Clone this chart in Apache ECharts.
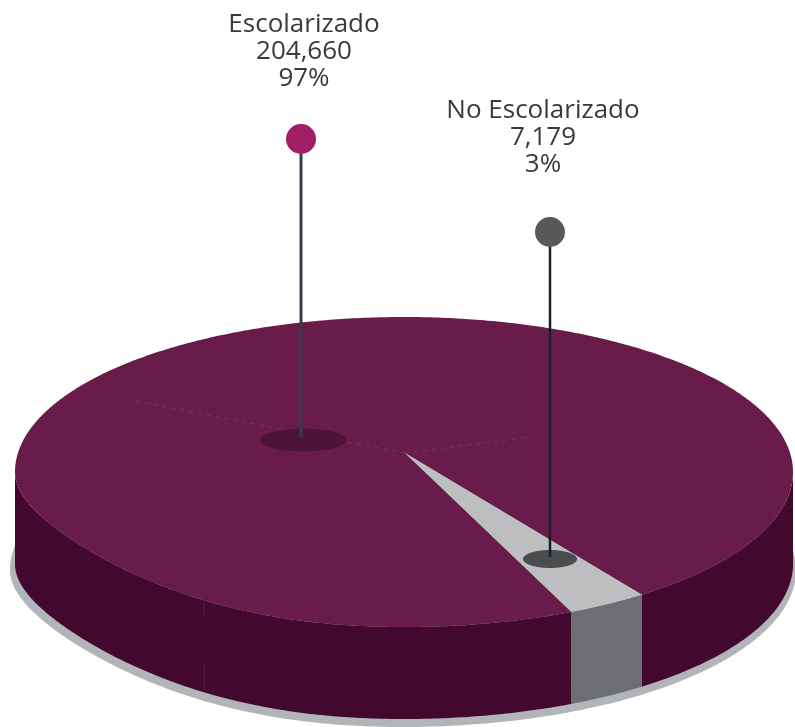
<!DOCTYPE html>
<html>
<head>
<meta charset="utf-8">
<style>html,body{margin:0;padding:0;background:#fff}#c{width:795px;height:727px}</style>
<script src="https://cdn.jsdelivr.net/npm/echarts@6/dist/echarts.min.js"></script>
</head>
<body>
<div id="c"></div>
<script>
var categories = ['Escolarizado', 'No Escolarizado'];
var values = [204660, 7179];
var percents = ['97%', '3%'];
var valueLabels = ['204,660', '7,179'];

var L = {
  cx: 404, cy: 472, rx: 389, ry: 155, depth: 92, squash: 40,
  apex: [405, 453],
  startDeg: 52.3,
  shadow: { cx: 403, cy: 570, rx: 393, ry: 157 },
  seamDeg: 121,
  pins: [
    { x: 301, dotY: 139, baseX: 303, baseY: 440, brx: 43, bry: 11.5, r: 15, w: 3, dot: '#a11d66', line: '#3b3a48', base: '#4d1437', labelX: 304, labelY: 25 },
    { x: 550, dotY: 232, baseX: 550, baseY: 559, brx: 27, bry: 9, r: 15, w: 2.5, dot: '#58595b', line: '#14202a', base: '#4b4c4e', labelX: 543, labelY: 111 }
  ]
};
var C = { top: '#691b4a', side: '#43082d', wedgeTop: '#bcbec0', wedgeSide: '#6d6e71', shadow: '#b1b5b9', seam: '#55203f', faint: 'rgba(140,70,110,0.55)' };
var total = values.reduce(function (a, b) { return a + b; }, 0);

// The drawn disc is a little flatter on its lower left than a true ellipse.
function squash(t) {
  var c = Math.cos(t), s = Math.sin(t);
  return (c < 0 && s > 0) ? -L.squash * Math.pow(-c, 3) * s : 0;
}
function pt(t, dy) {
  return [L.cx + L.rx * Math.cos(t), L.cy + L.ry * Math.sin(t) + squash(t) + (dy || 0)];
}
function arc(a, b, dy) {
  var n = Math.max(2, Math.ceil(Math.abs(b - a) / 0.01)), out = [];
  for (var i = 0; i <= n; i++) out.push(pt(a + (b - a) * i / n, dy));
  return out;
}
function band(a, b) {
  return arc(a, b, 0).concat(arc(a, b, L.depth).reverse());
}
function ell(cx, cy, rx, ry, skew) {
  var out = [];
  for (var i = 0; i < 360; i++) {
    var t = i * Math.PI / 180;
    out.push([cx + rx * Math.cos(t), cy + ry * Math.sin(t) + (skew ? squash(t) : 0)]);
  }
  return out;
}
function poly(points, fill) {
  return { type: 'polygon', shape: { points: points }, style: { fill: fill } };
}
function seg(p, q, stroke, w, dash) {
  return { type: 'line', shape: { x1: p[0], y1: p[1], x2: q[0], y2: q[1] }, style: { stroke: stroke, lineWidth: w, lineDash: dash || null } };
}

function renderItem(params, api) {
  var i = params.dataIndex;
  var t0 = L.startDeg * Math.PI / 180;
  var sweep = 2 * Math.PI * api.value(0) / total;
  var kids = [];
  if (i === 0) {
    var wedge = 2 * Math.PI * values[1] / total;
    var a = t0 + wedge, b = a + sweep;
    var s = L.shadow;
    kids.push(poly(ell(s.cx, s.cy, s.rx, s.ry, true), C.shadow));
    kids.push(poly(band(a, Math.PI), C.side));
    kids.push(poly(band(0, t0), C.side));
    kids.push(poly([L.apex].concat(arc(a, b, 0)), C.top));
    var sm = L.seamDeg * Math.PI / 180, sp = pt(sm, 0);
    kids.push(seg(L.apex, sp, C.seam, 1));
    kids.push(seg([sp[0], sp[1] + 3], [sp[0], sp[1] + 14], C.seam, 1));
    kids.push(seg([sp[0] + 1, sp[1] + 64], [sp[0] + 1, sp[1] + 90], C.seam, 1));
    kids.push(seg(L.apex, [130, 400], C.faint, 1, [4, 5]));
    kids.push(seg(L.apex, [530, 437], C.faint, 1, [4, 5]));
  } else {
    var w0 = t0, w1 = t0 + sweep;
    kids.push(poly(band(w0, w1), C.wedgeSide));
    kids.push(poly([L.apex].concat(arc(w0, w1, 0)), C.wedgeTop));
  }
  var p = L.pins[i];
  kids.push(poly(ell(p.baseX, p.baseY, p.brx, p.bry), p.base));
  kids.push(seg([p.x, p.dotY], [p.x, p.baseY - 2], p.line, p.w));
  kids.push({ type: 'circle', shape: { cx: p.x, cy: p.dotY, r: p.r }, style: { fill: p.dot } });
  kids.push({
    type: 'text',
    style: {
      x: p.labelX, y: p.labelY - 14,
      text: categories[i] + '\n' + valueLabels[i] + '\n' + percents[i],
      align: 'center', verticalAlign: 'top',
      fill: '#3a3a3c',
      font: '26px "Open Sans", sans-serif',
      lineHeight: 27
    }
  });
  return { type: 'group', children: kids };
}

var chart = echarts.init(document.getElementById('c'), null, { renderer: 'canvas' });
chart.setOption({
  animation: false,
  backgroundColor: '#ffffff',
  series: [{
    type: 'custom',
    coordinateSystem: 'none',
    renderItem: renderItem,
    data: values.map(function (v) { return [v]; })
  }]
});
</script>
</body>
</html>
